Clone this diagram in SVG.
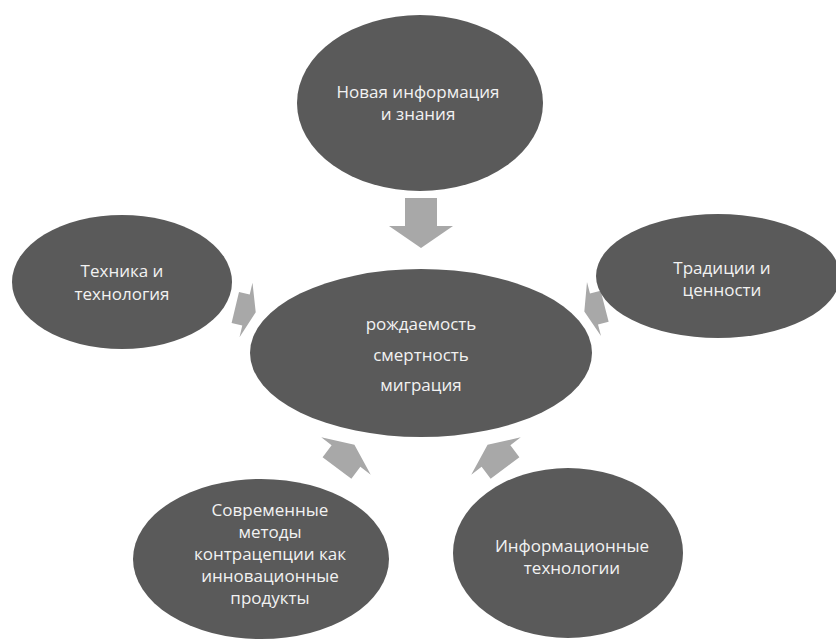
<svg xmlns="http://www.w3.org/2000/svg" width="836" height="639" viewBox="0 0 836 639">
<style>
.node{fill:#5a5a5a}
.lbl{font-family:"Open Sans","DejaVu Sans",sans-serif;font-size:17px;fill:#f2f2f2;text-anchor:middle}
.arr{fill:#a8a8a8}
</style>
<rect width="836" height="639" fill="#ffffff"/>
<g id="connectors">
  <polygon class="arr" transform="translate(421,226) rotate(90)" points="-28,-16 0,-16 0,-32 22,0 0,32 0,16 -28,16"/>
  <polygon class="arr" transform="translate(246,310) rotate(13.4)" points="-11,-16 0,-16 0,-28 10,0 0,28 0,16 -11,16"/>
  <polygon class="arr" transform="translate(594,309) rotate(165.5)" points="-11,-16 0,-16 0,-28 10,0 0,28 0,16 -11,16"/>
  <polygon class="arr" transform="translate(346,456) rotate(-53)" points="-15,-18 0,-18 0,-31 14,0 0,31 0,18 -15,18"/>
  <polygon class="arr" transform="translate(496,456) rotate(-127)" points="-15,-18 0,-18 0,-31 14,0 0,31 0,18 -15,18"/>
</g>
<g id="node-top">
  <ellipse class="node" cx="420" cy="103" rx="123" ry="88"/>
  <text class="lbl" x="418" y="98">Новая информация</text>
  <text class="lbl" x="418" y="120">и знания</text>
</g>
<g id="node-center">
  <ellipse class="node" cx="421" cy="353" rx="171" ry="84"/>
  <text class="lbl" x="421" y="330">рождаемость</text>
  <text class="lbl" x="421" y="361">смертность</text>
  <text class="lbl" x="421" y="391">миграция</text>
</g>
<g id="node-left">
  <ellipse class="node" cx="122" cy="282" rx="110" ry="67"/>
  <text class="lbl" x="122" y="277">Техника и</text>
  <text class="lbl" x="122" y="300">технология</text>
</g>
<g id="node-right">
  <ellipse class="node" cx="718" cy="276" rx="122" ry="62"/>
  <text class="lbl" x="722" y="274">Традиции и</text>
  <text class="lbl" x="722" y="296">ценности</text>
</g>
<g id="node-bottom-left">
  <ellipse class="node" cx="261" cy="559" rx="128" ry="80"/>
  <text class="lbl" x="270" y="516">Современные</text>
  <text class="lbl" x="270" y="538">методы</text>
  <text class="lbl" x="270" y="560">контрацепции как</text>
  <text class="lbl" x="270" y="582">инновационные</text>
  <text class="lbl" x="270" y="604">продукты</text>
</g>
<g id="node-bottom-right">
  <ellipse class="node" cx="568" cy="553" rx="115" ry="85"/>
  <text class="lbl" x="572" y="552">Информационные</text>
  <text class="lbl" x="572" y="574">технологии</text>
</g>
</svg>
